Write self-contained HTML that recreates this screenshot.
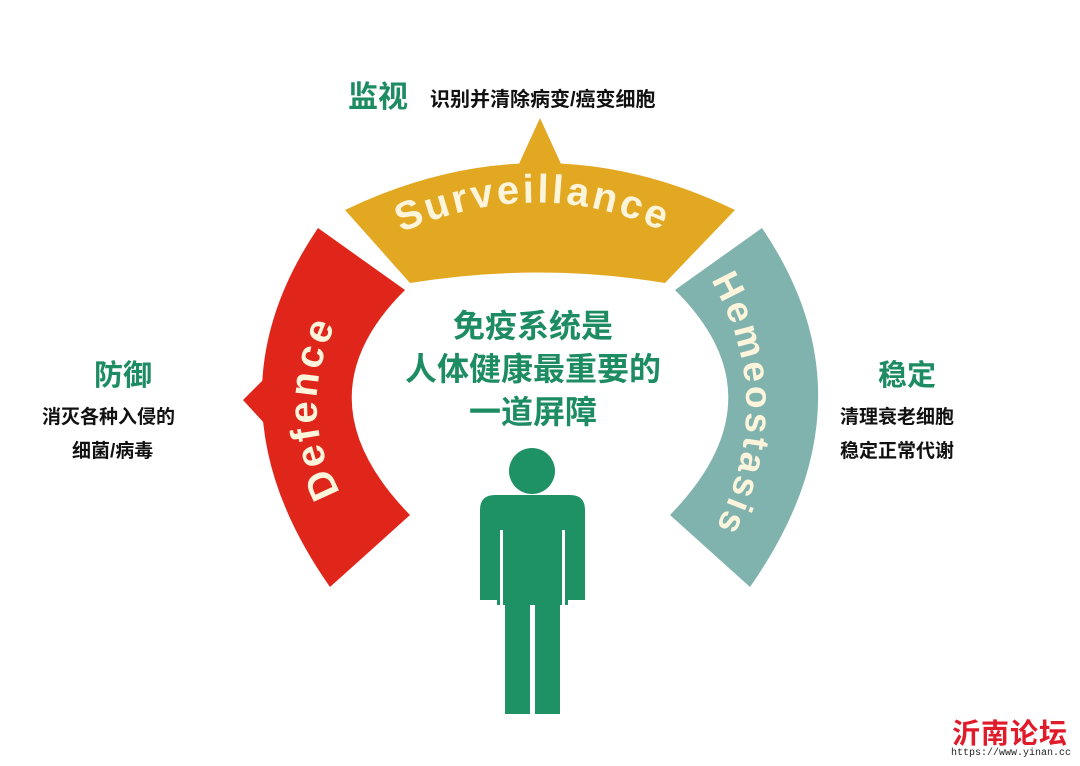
<!DOCTYPE html>
<html><head><meta charset="utf-8"><style>
html,body{margin:0;padding:0;background:#fff;}
body{width:1080px;height:766px;overflow:hidden;position:relative;font-family:"Liberation Sans","Noto Sans CJK SC",sans-serif;}
.t{position:absolute;font-weight:bold;white-space:nowrap;}
.g{color:#1e8c62;}
.k{color:#111;}
</style></head><body>
<svg width="1080" height="766" style="position:absolute;left:0;top:0">
<defs>
<path id="ps" d="M385,240 Q540,165 680,240"/>
<path id="pd" d="M348,505 Q288,410 343,310"/>
<path id="ph" d="M700,262 Q790,400 705,548"/>
</defs>
<path d="M318,228 Q200,402 330,587 L410,515 Q296,398 405,290 Z" fill="#e0261b"/>
<polygon points="265,378 243,400 265,424" fill="#e0261b"/>
<path d="M345,210 Q540,116 735,210 L665,283 Q540,262 410,283 Z" fill="#e3a821"/>
<polygon points="518,166 540,118 562,166" fill="#e3a821"/>
<path d="M762,228 Q880,402 750,587 L670,515 Q784,398 675,290 Z" fill="#80b3ae"/>
<polygon points="795,380 815,402 795,424" fill="#80b3ae"/>
<text font-family="Liberation Sans" font-weight="bold" font-size="40" fill="#fdf4dc" letter-spacing="3"><textPath href="#ps" startOffset="50%" text-anchor="middle">Surveillance</textPath></text>
<text font-family="Liberation Sans" font-weight="bold" font-size="40" fill="#fdf4dc" letter-spacing="3"><textPath href="#pd" startOffset="50%" text-anchor="middle">Defence</textPath></text>
<text font-family="Liberation Sans" font-weight="bold" font-size="37" fill="#fdf4dc" letter-spacing="3"><textPath href="#ph" startOffset="50%" text-anchor="middle">Hemeostasis</textPath></text>
<g fill="#1e9265">
<circle cx="532" cy="471" r="23"/>
<path d="M480,600 L480,510 Q480,495 495,495 L570,495 Q585,495 585,510 L585,600 L568,600 L568,605 L560,605 L560,714 L535,714 L535,605 L530,605 L530,714 L505,714 L505,605 L497,605 L497,600 Z"/>
</g>
<rect x="500" y="530" width="3" height="75" fill="#fff"/>
<rect x="562" y="530" width="3" height="75" fill="#fff"/>
<rect x="531" y="610" width="3" height="104" fill="#fff"/>
</svg>
<div class="t g" style="left:348px;top:72px;font-size:30px;">监视</div>
<div class="t k" style="left:430px;top:83px;font-size:20px;">识别并清除病变/癌变细胞</div>
<div class="t g" style="left:94px;top:352px;font-size:29px;">防御</div>
<div class="t k" style="left:42px;top:402px;font-size:19px;">消灭各种入侵的</div>
<div class="t k" style="left:72px;top:436px;font-size:19px;">细菌/病毒</div>
<div class="t g" style="left:878px;top:352px;font-size:29px;">稳定</div>
<div class="t k" style="left:840px;top:402px;font-size:19px;">清理衰老细胞</div>
<div class="t k" style="left:840px;top:436px;font-size:19px;">稳定正常代谢</div>
<div class="t g" style="left:392px;width:282px;text-align:center;top:305px;font-size:32px;line-height:43px;">免疫系统是<br>人体健康最重要的<br>一道屏障</div>
<div class="t" style="left:952px;top:712px;font-size:28px;color:#e01b2a;letter-spacing:1px;">沂南论坛</div>
<div class="t" style="left:951px;top:748px;font-size:10px;font-weight:normal;color:#222;font-family:'Liberation Mono',monospace;">https://www.yinan.cc</div>
</body></html>
